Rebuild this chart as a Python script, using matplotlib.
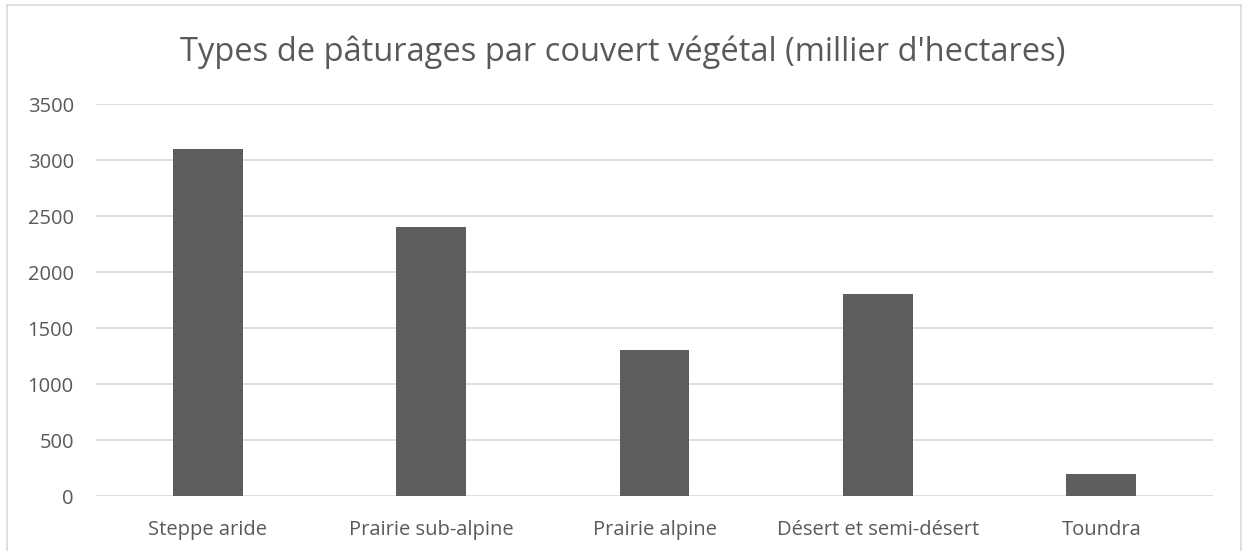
import matplotlib
matplotlib.use("Agg")
import matplotlib.pyplot as plt
from matplotlib.lines import Line2D

categories = ["Steppe aride", "Prairie sub-alpine", "Prairie alpine",
              "Désert et semi-désert", "Toundra"]
values = [3100, 2400, 1300, 1800, 200]
yticks = [0, 500, 1000, 1500, 2000, 2500, 3000, 3500]

text_col = "#595959"
grid_col = "#d9d9d9"
bar_col = "#5e5e5e"

plt.rcParams["font.family"] = ["Open Sans", "DejaVu Sans"]

fig = plt.figure(figsize=(12.45, 5.51), dpi=100)
ax = fig.add_axes([96 / 1245, 1 - 496 / 551, (1213 - 96) / 1245, (496 - 104) / 551])

x = range(len(categories))
ax.bar(x, values, width=0.313, color=bar_col, zorder=3)

ax.set_xlim(-0.5, len(categories) - 0.5)
ax.set_ylim(0, 3500)
ax.set_yticks(yticks)
ax.set_yticklabels([str(v) for v in yticks])
ax.set_xticks(list(x))
ax.set_xticklabels(categories)
ax.tick_params(axis="both", length=0, colors=text_col, labelsize=14.5)
ax.tick_params(axis="y", pad=16)
ax.tick_params(axis="x", pad=17)
ax.grid(axis="y", color=grid_col, linewidth=1.2, zorder=0)
for s in ax.spines.values():
    s.set_visible(False)

fig.text(0.5, 1 - 52 / 551, "Types de pâturages par couvert végétal (millier d'hectares)",
         ha="center", va="center", fontsize=23.5, color=text_col)

# light frame around the chart (bottom edge is cut off)
fig.add_artist(Line2D([7 / 1245, 7 / 1245], [0, 1 - 5 / 551], color=grid_col, lw=1.2))
fig.add_artist(Line2D([7 / 1245, 1241 / 1245], [1 - 5 / 551, 1 - 5 / 551], color=grid_col, lw=1.2))
fig.add_artist(Line2D([1241 / 1245, 1241 / 1245], [0, 1 - 5 / 551], color=grid_col, lw=1.2))

fig.savefig("out.png", dpi=100)
